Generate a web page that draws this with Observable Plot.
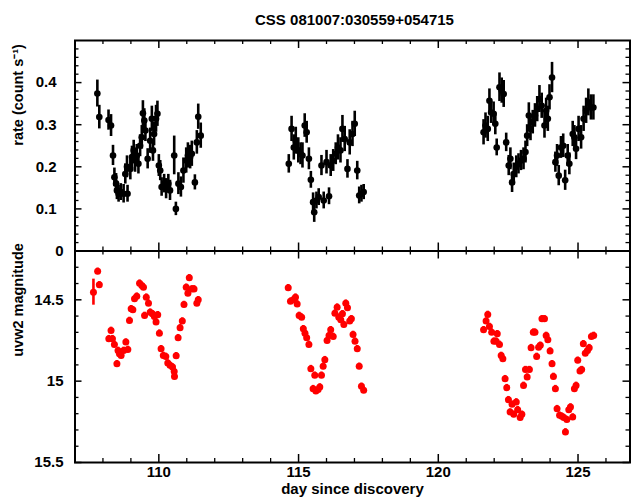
<!DOCTYPE html>
<html><head><meta charset="utf-8">
<script src="https://cdn.jsdelivr.net/npm/d3@7"></script>
<script src="https://cdn.jsdelivr.net/npm/@observablehq/plot@0.6"></script>
<style>
html,body{margin:0;padding:0;background:#fff;}
#chart{position:relative;width:632px;height:503px;background:#fff;overflow:hidden;}
#chart svg{position:absolute;left:0;background:transparent;overflow:visible;}
</style>
</head><body><div id="chart"></div>
<script>
// ---- data ----
const titleText = "CSS 081007:030559+054715";
const topLabel = "rate (count s\u207B\u00B9)";
const botLabel = "uvw2 magnitude";
const xLabel = "day since discovery";

const topDay = [107.80,107.87,108.20,108.29,108.36,108.41,108.47,108.50,108.56,108.64,108.74,108.80,108.86,108.88,108.98,109.04,109.10,109.15,109.21,109.27,109.33,109.39,109.43,109.48,109.52,109.60,109.69,109.75,109.79,109.83,109.90,109.95,110.00,110.05,110.10,110.19,110.26,110.34,110.40,110.55,110.61,110.70,110.79,110.88,110.98,111.04,111.12,111.18,111.29,111.36,111.41,111.50,
114.65,114.75,114.83,114.90,114.99,115.07,115.14,115.22,115.29,115.37,115.44,115.52,115.56,115.64,115.72,115.82,115.90,116.00,116.09,116.15,116.24,116.33,116.41,116.50,116.57,116.65,116.75,116.83,116.93,117.01,117.10,117.17,117.25,117.33,
121.62,121.69,121.77,121.83,121.89,121.98,122.04,122.09,122.19,122.27,122.34,122.43,122.52,122.58,122.64,122.70,122.79,122.87,122.96,123.05,123.12,123.18,123.24,123.30,123.38,123.46,123.54,123.62,123.70,123.80,123.86,123.92,123.98,124.07,124.19,124.25,124.31,124.39,124.47,124.54,124.63,124.69,124.81,124.87,124.93,125.02,125.11,125.20,125.29,125.37,125.46,125.55];
const topRate = [0.374,0.318,0.311,0.298,0.227,0.175,0.160,0.144,0.136,0.140,0.136,0.183,0.200,0.136,0.195,0.223,0.239,0.215,0.227,0.207,0.250,0.270,0.327,0.310,0.286,0.219,0.262,0.314,0.239,0.278,0.314,0.326,0.203,0.191,0.152,0.160,0.148,0.160,0.144,0.227,0.100,0.160,0.152,0.191,0.215,0.227,0.223,0.231,0.163,0.258,0.319,0.274,
0.207,0.290,0.246,0.262,0.239,0.231,0.227,0.298,0.282,0.219,0.169,0.116,0.092,0.120,0.128,0.203,0.120,0.211,0.130,0.203,0.215,0.231,0.246,0.239,0.290,0.266,0.195,0.258,0.278,0.302,0.191,0.132,0.136,0.140,
0.282,0.298,0.290,0.357,0.329,0.326,0.302,0.246,0.389,0.381,0.373,0.258,0.203,0.219,0.163,0.183,0.200,0.207,0.215,0.219,0.235,0.274,0.322,0.290,0.306,0.322,0.337,0.361,0.345,0.298,0.333,0.314,0.365,0.412,0.211,0.227,0.179,0.246,0.250,0.168,0.227,0.207,0.278,0.270,0.243,0.290,0.270,0.314,0.333,0.353,0.341,0.341];
const topErr = [0.032,0.028,0.024,0.026,0.024,0.022,0.024,0.022,0.020,0.020,0.022,0.024,0.026,0.020,0.026,0.026,0.024,0.028,0.026,0.024,0.026,0.028,0.030,0.028,0.026,0.024,0.030,0.030,0.026,0.028,0.032,0.030,0.026,0.024,0.022,0.022,0.024,0.022,0.024,0.046,0.016,0.026,0.024,0.030,0.030,0.030,0.028,0.030,0.018,0.028,0.030,0.030,
0.022,0.030,0.030,0.032,0.030,0.026,0.030,0.028,0.026,0.026,0.020,0.022,0.024,0.020,0.020,0.024,0.020,0.028,0.020,0.026,0.026,0.026,0.030,0.030,0.032,0.030,0.022,0.030,0.030,0.030,0.022,0.020,0.020,0.018,
0.030,0.030,0.030,0.028,0.026,0.028,0.026,0.020,0.034,0.030,0.032,0.022,0.024,0.026,0.024,0.026,0.026,0.024,0.024,0.026,0.026,0.026,0.030,0.028,0.028,0.028,0.030,0.032,0.030,0.030,0.030,0.030,0.030,0.036,0.024,0.026,0.024,0.026,0.028,0.024,0.026,0.026,0.030,0.028,0.026,0.030,0.028,0.030,0.030,0.032,0.030,0.030];

const uvDay = [107.66,107.81,107.87,108.21,108.29,108.34,108.41,108.50,108.54,108.59,108.65,108.74,108.82,108.89,108.95,109.01,109.07,109.13,109.21,109.31,109.39,109.45,109.49,109.55,109.63,109.69,109.77,109.84,109.90,109.96,110.02,110.08,110.16,110.25,110.32,110.40,110.49,110.55,110.56,110.62,110.69,110.76,110.84,110.90,110.98,111.04,111.09,111.18,111.26,111.36,111.41,
114.63,114.71,114.81,114.89,114.95,115.02,115.11,115.17,115.23,115.29,115.37,115.44,115.52,115.58,115.62,115.70,115.76,115.82,115.88,115.94,116.02,116.09,116.15,116.24,116.30,116.38,116.44,116.51,116.57,116.62,116.69,116.75,116.83,116.89,116.95,117.02,117.10,117.17,117.25,117.33,
121.62,121.71,121.77,121.83,121.91,121.99,122.07,122.11,122.19,122.25,122.31,122.39,122.45,122.51,122.57,122.64,122.70,122.79,122.84,122.93,122.99,123.05,123.12,123.18,123.26,123.32,123.40,123.46,123.52,123.59,123.65,123.71,123.80,123.86,123.92,124.00,124.07,124.12,124.19,124.25,124.34,124.42,124.49,124.55,124.60,124.67,124.73,124.81,124.87,124.93,124.99,125.07,125.13,125.19,125.26,125.34,125.40,125.48,125.56];
const uvMag = [14.453,14.325,14.408,14.739,14.688,14.739,14.774,14.893,14.811,14.831,14.842,14.811,14.760,14.805,14.627,14.555,14.561,14.494,14.478,14.398,14.412,14.423,14.596,14.484,14.521,14.576,14.586,14.602,14.637,14.592,14.705,14.801,14.842,14.848,14.889,14.903,14.913,14.940,14.971,14.844,14.733,14.672,14.631,14.529,14.423,14.460,14.365,14.433,14.433,14.521,14.500,
14.426,14.509,14.500,14.484,14.525,14.596,14.607,14.678,14.705,14.733,14.774,14.923,15.046,14.964,15.061,15.052,15.036,14.964,14.909,14.868,14.750,14.719,14.684,14.725,14.582,14.545,14.607,14.623,14.586,14.652,14.521,14.549,14.631,14.617,14.713,14.754,14.801,14.909,15.032,15.056,
14.684,14.631,14.590,14.664,14.699,14.754,14.754,14.709,14.774,14.842,14.862,14.985,15.040,15.114,15.190,15.142,15.204,15.128,15.175,15.224,15.204,15.026,14.929,14.975,14.929,14.794,14.699,14.699,14.848,14.791,14.780,14.617,14.617,14.719,14.745,14.815,14.893,14.971,15.046,15.169,15.210,15.216,15.224,15.312,15.236,15.175,15.159,15.221,15.046,15.026,14.872,14.938,14.929,14.770,14.828,14.811,14.794,14.725,14.719];
const uvErr = [0.08,0.02,0.02,0.02,0.02,0.02,0.02,0.02,0.02,0.02,0.02,0.02,0.02,0.02,0.02,0.02,0.02,0.02,0.02,0.02,0.02,0.02,0.02,0.02,0.02,0.02,0.02,0.02,0.02,0.02,0.02,0.02,0.02,0.02,0.02,0.02,0.02,0.02,0.02,0.02,0.02,0.02,0.02,0.02,0.02,0.02,0.02,0.02,0.02,0.02,0.02,
0.02,0.02,0.02,0.02,0.02,0.02,0.02,0.02,0.02,0.02,0.02,0.02,0.02,0.02,0.02,0.02,0.02,0.02,0.02,0.02,0.02,0.02,0.02,0.02,0.02,0.02,0.02,0.02,0.02,0.02,0.02,0.02,0.02,0.02,0.02,0.02,0.02,0.02,0.02,0.02,
0.02,0.02,0.02,0.02,0.02,0.02,0.02,0.02,0.02,0.02,0.02,0.02,0.02,0.02,0.02,0.02,0.02,0.02,0.02,0.02,0.02,0.02,0.02,0.02,0.02,0.02,0.02,0.02,0.02,0.02,0.02,0.02,0.02,0.02,0.02,0.02,0.02,0.02,0.02,0.02,0.02,0.02,0.02,0.02,0.02,0.02,0.02,0.02,0.02,0.02,0.02,0.02,0.02,0.02,0.02,0.02,0.02,0.02,0.02];

const xDomain = [107, 126.86];
const xMajor = [110, 115, 120, 125];
const xMinor = [107,108,109,111,112,113,114,116,117,118,119,121,122,123,124,126];
const topDomain = [0, 0.5];
const topMajor = [0, 0.1, 0.2, 0.3, 0.4];
const topMinor = [0.02,0.04,0.06,0.08,0.12,0.14,0.16,0.18,0.22,0.24,0.26,0.28,0.32,0.34,0.36,0.38,0.42,0.44,0.46,0.48];
const botDomain = [14.2, 15.5];
const botMajor = [14.5, 15, 15.5];
const botMinor = [14.3,14.4,14.6,14.7,14.8,14.9,15.1,15.2,15.3,15.4];

// ---- layout ----
const W = 632, ML = 74.5, MR = 2.5;
const FW = W - ML - MR;
const font = "'Liberation Sans', Arial, Helvetica, sans-serif";
const FS = 15;
const topRows = topDay.map((d, i) => ({day: d, rate: topRate[i], err: topErr[i]}));
const uvRows = uvDay.map((d, i) => ({day: d, mag: uvMag[i], err: uvErr[i]}));

function frameTicks(fh, xMaj, xMin, yMaj, yMin) {
  const a = d => d;
  return [
    Plot.tickX(xMaj, {x: a, insetTop: fh - 8, strokeWidth: 1.5}),
    Plot.tickX(xMaj, {x: a, insetBottom: fh - 8, strokeWidth: 1.5}),
    Plot.tickX(xMin, {x: a, insetTop: fh - 4, strokeWidth: 1.3}),
    Plot.tickX(xMin, {x: a, insetBottom: fh - 4, strokeWidth: 1.3}),
    Plot.tickY(yMaj, {y: a, insetRight: FW - 7, strokeWidth: 1.5}),
    Plot.tickY(yMaj, {y: a, insetLeft: FW - 7, strokeWidth: 1.5}),
    Plot.tickY(yMin, {y: a, insetRight: FW - 4, strokeWidth: 1.3}),
    Plot.tickY(yMin, {y: a, insetLeft: FW - 4, strokeWidth: 1.3})
  ];
}

const txt = {fontSize: FS, fontWeight: "bold"};

const topH = 251, topMT = 40, topMB = 0.5;
const topPlot = Plot.plot({
  width: W, height: topH,
  marginLeft: ML, marginRight: MR, marginTop: topMT, marginBottom: topMB,
  style: {fontFamily: font, fontSize: FS + "px", background: "transparent", color: "black", overflow: "visible"},
  x: {domain: xDomain, axis: null},
  y: {domain: topDomain, axis: null},
  marks: [
    ...frameTicks(topH - topMT - topMB, xMajor, xMinor, topMajor, topMinor),
    Plot.axisY(topMajor.filter(d => d > 0), {tickSize: 0, tickPadding: 18.5, label: null,
      tickFormat: d => String(d), ...txt}),
    Plot.axisY(topMajor.filter(d => d === 0), {tickSize: 0, tickPadding: 11.5, label: null,
      tickFormat: d => String(d), ...txt}),
    Plot.ruleX(topRows, {x: "day", y1: d => d.rate - d.err, y2: d => d.rate + d.err, stroke: "black", strokeWidth: 2.6}),
    Plot.dot(topRows, {x: "day", y: "rate", r: 3.3, fill: "black", stroke: null}),
    Plot.frame({stroke: "black", strokeWidth: 2}),
    Plot.text([topLabel], {frameAnchor: "left", text: d => d, rotate: -90, dx: -57, ...txt, fontSize: 14.5}),
    Plot.text([titleText], {frameAnchor: "top", text: d => d, dy: -26, dx: 2, ...txt})
  ]
});

const botH = 253, botMT = 0.5, botMB = 41;
const botPlot = Plot.plot({
  width: W, height: botH,
  marginLeft: ML, marginRight: MR, marginTop: botMT, marginBottom: botMB,
  style: {fontFamily: font, fontSize: FS + "px", background: "transparent", color: "black", overflow: "visible"},
  x: {domain: xDomain, axis: null},
  y: {domain: botDomain, reverse: true, axis: null},
  marks: [
    ...frameTicks(botH - botMT - botMB, xMajor, xMinor, botMajor, botMinor),
    Plot.axisY(botMajor, {tickSize: 0, tickPadding: 11.5, label: null,
      tickFormat: d => String(d), ...txt}),
    Plot.axisX(xMajor, {tickSize: 0, tickPadding: 3.5, label: null,
      tickFormat: d => String(d), ...txt}),
    Plot.ruleX(uvRows, {x: "day", y1: d => d.mag - d.err, y2: d => d.mag + d.err, stroke: "red", strokeWidth: 2.6}),
    Plot.dot(uvRows, {x: "day", y: "mag", r: 3.5, fill: "red", stroke: null}),
    Plot.frame({stroke: "black", strokeWidth: 2}),
    Plot.text([botLabel], {frameAnchor: "left", text: d => d, rotate: -90, dx: -57, ...txt, fontSize: 14.5}),
    Plot.text([xLabel], {frameAnchor: "bottom", text: d => d, dy: 31.5, ...txt})
  ]
});

const chart = document.getElementById("chart");
topPlot.style.top = "0px";
botPlot.style.top = "250px";
chart.appendChild(topPlot);
chart.appendChild(botPlot);
</script></body></html>
